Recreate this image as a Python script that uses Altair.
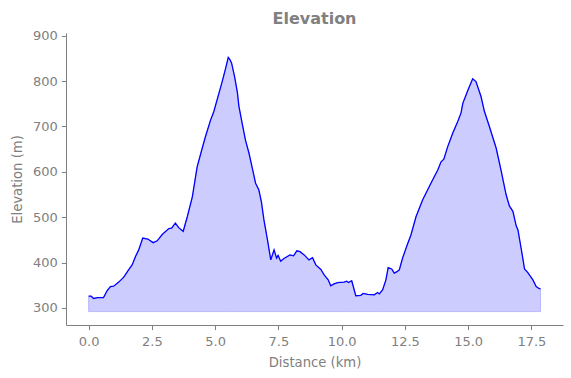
import altair as alt
import pandas as pd

# Distance along route (km) and elevation (m)
distance_km = [
    0.00, 0.10, 0.20, 0.36, 0.59, 0.73, 0.86, 0.99, 1.19, 1.39, 1.58, 1.72, 1.85, 1.98,
    2.14, 2.34, 2.55, 2.71, 2.91, 3.17, 3.28, 3.43, 3.56, 3.74, 3.90, 4.10, 4.29, 4.49,
    4.62, 4.82, 4.95, 5.15, 5.28, 5.41, 5.52, 5.58, 5.65, 5.77, 5.88, 5.94, 6.07, 6.20,
    6.34, 6.47, 6.60, 6.73, 6.83, 6.93, 7.07, 7.20, 7.33, 7.43, 7.49, 7.59, 7.72, 7.96,
    8.10, 8.23, 8.36, 8.52, 8.71, 8.85, 8.98, 9.18, 9.31, 9.47, 9.57, 9.70, 9.84, 10.10,
    10.20, 10.27, 10.40, 10.56, 10.76, 10.85, 11.03, 11.29, 11.42, 11.49, 11.62, 11.75,
    11.84, 11.98, 12.08, 12.19, 12.28, 12.41, 12.58, 12.74, 12.94, 13.20, 13.53, 13.80,
    13.93, 14.04, 14.19, 14.39, 14.59, 14.72, 14.79, 14.99, 15.18, 15.31, 15.51, 15.64,
    15.84, 16.11, 16.30, 16.50, 16.63, 16.77, 16.90, 16.97, 17.10, 17.23, 17.36, 17.56,
    17.69, 17.80, 17.86,
]
elevation_m = [
    326, 326, 321, 323, 323, 338, 347, 348, 357, 368, 384, 395, 413, 428,
    454, 452, 444, 448, 462, 475, 476, 487, 477, 469, 501, 545, 611, 652,
    678, 714, 733, 773, 799, 827, 852, 848, 840, 810, 775, 745, 707, 670,
    641, 608, 575, 560, 534, 494, 450, 406, 428, 410, 416, 403, 409, 417,
    415, 426, 424, 417, 406, 411, 395, 385, 373, 362, 349, 353, 356, 357,
    359, 356, 360, 327, 328, 332, 330, 329, 334, 331, 340, 362,
    389, 386, 377, 380, 384, 410, 437, 461, 501, 538, 575, 604,
    622, 628, 655, 685, 711, 730, 751, 780, 805, 799, 766, 734,
    700, 652, 604, 550, 525, 513, 481, 472, 430, 386, 378, 362,
    347, 343, 342,
]
fill_base_m = 292

x_ticks = [0, 2.5, 5, 7.5, 10, 12.5, 15, 17.5]
y_ticks = [300, 400, 500, 600, 700, 800, 900]

df = pd.DataFrame({"d": distance_km, "e": elevation_m})
df["base"] = fill_base_m

GRAY = "#808080"
FONT = "DejaVu Sans"
W, H = 497, 292

x_enc = alt.X(
    "d:Q",
    scale=alt.Scale(domain=[-0.893, 18.75], nice=False, zero=False),
    axis=alt.Axis(
        values=x_ticks, format=".1f", title="Distance (km)", grid=False,
        tickSize=4.6, labelPadding=6, titleX=W / 2, titleY=37, titleBaseline="middle",
    ),
)
y_scale = alt.Scale(domain=[262.5, 906], nice=False, zero=False)

area = alt.Chart(df).mark_area(
    color="blue", fillOpacity=0.2, stroke="blue", strokeOpacity=0.2, strokeWidth=1,
).encode(
    x=x_enc,
    y=alt.Y(
        "e:Q", scale=y_scale,
        axis=alt.Axis(
            values=y_ticks, title="Elevation (m)", grid=False, tickSize=4.6,
            labelPadding=4, titleX=-49, titleY=H / 2, titleBaseline="middle",
        ),
    ),
    y2="base:Q",
)

line = alt.Chart(df).mark_line(color="blue", strokeWidth=1.3).encode(
    x="d:Q", y="e:Q"
)

chart = (
    (area + line)
    .properties(
        width=W, height=H,
        autosize=alt.AutoSizeParams(type="none"),
        padding={"left": 66, "top": 33, "right": 8, "bottom": 53},
        title=alt.TitleParams("Elevation", anchor="middle", fontSize=16, fontWeight="bold",
                              color=GRAY, font=FONT, offset=3),
    )
    .configure_view(stroke=None)
    .configure_axis(
        domainColor=GRAY, tickColor=GRAY, labelColor=GRAY, titleColor=GRAY,
        labelFont=FONT, titleFont=FONT, labelFontSize=13, titleFontSize=13.2,
        titleFontWeight="normal", domainWidth=1, tickWidth=1,
    )
)

chart.save("out.html", embed_options={"renderer": "svg", "actions": False})
